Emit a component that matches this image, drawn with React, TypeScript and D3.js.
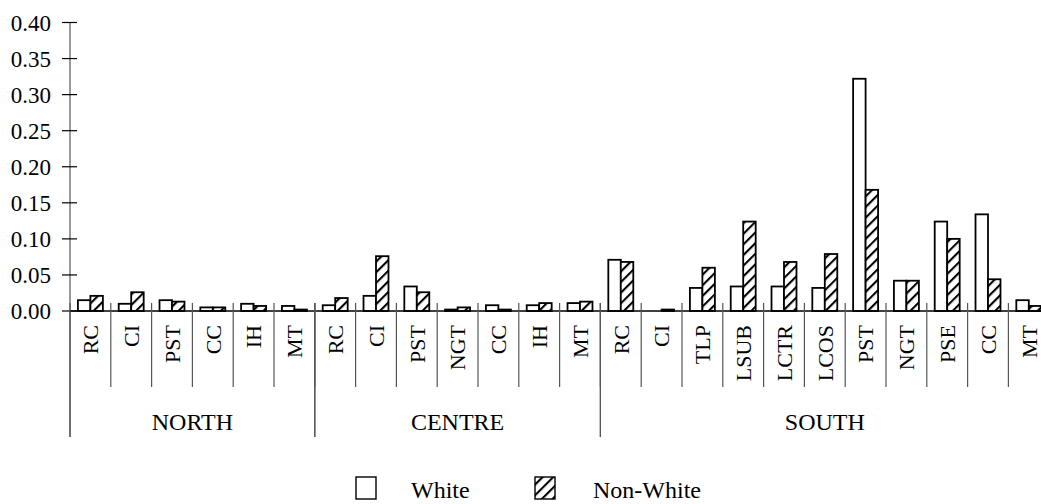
import React from 'react';
import * as d3 from 'd3';

// Regions and the categories inside each
const groups = ['NORTH', 'CENTRE', 'SOUTH'];
const northCats = ['RC', 'CI', 'PST', 'CC', 'IH', 'MT'];
const centreCats = ['RC', 'CI', 'PST', 'NGT', 'CC', 'IH', 'MT'];
const southCats = ['RC', 'CI', 'TLP', 'LSUB', 'LCTR', 'LCOS', 'PST', 'NGT', 'PSE', 'CC', 'MT'];

// Values
const northWhite = [0.015, 0.010, 0.015, 0.005, 0.010, 0.007];
const northNonWhite = [0.021, 0.026, 0.013, 0.005, 0.007, 0.002];
const centreWhite = [0.008, 0.021, 0.034, 0.002, 0.008, 0.008, 0.011];
const centreNonWhite = [0.018, 0.076, 0.026, 0.005, 0.002, 0.011, 0.013];
const southWhite = [0.071, 0.000, 0.032, 0.034, 0.034, 0.032, 0.322, 0.042, 0.124, 0.134, 0.015];
const southNonWhite = [0.068, 0.002, 0.060, 0.124, 0.068, 0.079, 0.168, 0.042, 0.100, 0.044, 0.007];

const seriesNames = ['White', 'Non-White'];
const yTicks = [0, 0.05, 0.1, 0.15, 0.2, 0.25, 0.3, 0.35, 0.4];

const groupCats = [northCats, centreCats, southCats];
const groupWhite = [northWhite, centreWhite, southWhite];
const groupNonWhite = [northNonWhite, centreNonWhite, southNonWhite];

const FONT = '"Liberation Serif", "Times New Roman", serif';

const App = () => {
  const width = 1041;
  const height = 504;
  const left = 70;
  const catWidth = 40.8;
  const axisY = 311;

  // flatten into rows
  const rows = groups.flatMap((g, gi) =>
    groupCats[gi].map((c, ci) => ({
      key: `${g}-${c}`,
      group: g,
      cat: c,
      white: groupWhite[gi][ci],
      nonWhite: groupNonWhite[gi][ci],
    }))
  );

  const x = d3.scaleBand()
    .domain(rows.map(d => d.key))
    .range([left, left + catWidth * rows.length])
    .padding(0);

  const bw = x.bandwidth();
  const barW = bw * 0.306;

  const y = d3.scaleLinear()
    .domain([0, 0.4])
    .range([axisY, 22.5]);

  const fmt = d3.format('.2f');

  // group boundaries
  let idx = 0;
  const groupSpans = groups.map((g, gi) => {
    const start = x(rows[idx].key);
    idx += groupCats[gi].length;
    const end = start + bw * groupCats[gi].length;
    return { g, start, end };
  });

  return (
    <svg width={width} height={height} style={{ position: 'absolute', left: 0, top: 0, background: '#fff' }}>
      <defs>
        <pattern id="hatch" patternUnits="userSpaceOnUse" width="7.5" height="7.5" patternTransform="rotate(45)">
          <rect width="7.5" height="7.5" fill="#fff" />
          <line x1="0" y1="0" x2="0" y2="7.5" stroke="#000" strokeWidth="4.2" />
        </pattern>
      </defs>

      {/* y axis */}
      <line x1={left} x2={left} y1={y(0.4)} y2={437} stroke="#555" strokeWidth={1.2} />
      {yTicks.map(t => (
        <g key={t}>
          <line x1={62} x2={77} y1={y(t)} y2={y(t)} stroke="#000" strokeWidth={1.2} />
          <text x={51} y={y(t)} dy="0.35em" textAnchor="end" fontFamily={FONT} fontSize={23} fill="#000">{fmt(t)}</text>
        </g>
      ))}

      {/* bars */}
      {rows.map(d => {
        const cx = x(d.key) + bw / 2;
        return (
          <g key={d.key}>
            {d.white > 0 && (
              <rect x={cx - barW} y={y(d.white)} width={barW} height={axisY - y(d.white)}
                fill="#fff" stroke="#000" strokeWidth={1.8} />
            )}
            {d.nonWhite > 0 && (
              <rect x={cx} y={y(d.nonWhite)} width={barW} height={axisY - y(d.nonWhite)}
                fill="url(#hatch)" stroke="#000" strokeWidth={1.8} />
            )}
          </g>
        );
      })}

      {/* x axis baseline */}
      <line x1={left} x2={width} y1={axisY} y2={axisY} stroke="#000" strokeWidth={1.4} />

      {/* category dividers and labels */}
      {rows.map((d, i) => {
        const x0 = x(d.key);
        const cx = x0 + bw / 2;
        return (
          <g key={`lab-${d.key}`}>
            {i > 0 && (
              <line x1={x0} x2={x0} y1={303} y2={387} stroke="#555" strokeWidth={1.2} />
            )}
            <text transform={`translate(${cx},325) rotate(-90)`} dy="0.35em" textAnchor="end"
              fontFamily={FONT} fontSize={22} fill="#000">{d.cat}</text>
          </g>
        );
      })}

      {/* group dividers and labels */}
      {groupSpans.map(s => (
        <g key={s.g}>
          <line x1={s.start} x2={s.start} y1={303} y2={437} stroke="#555" strokeWidth={1.2} />
          <line x1={s.end} x2={s.end} y1={303} y2={437} stroke="#555" strokeWidth={1.2} />
          <text x={(s.start + s.end) / 2} y={430} textAnchor="middle" fontFamily={FONT} fontSize={24} fill="#000">{s.g}</text>
        </g>
      ))}

      {/* legend */}
      <g>
        <rect x={356} y={477} width={20} height={22} fill="#fff" stroke="#000" strokeWidth={1.4} />
        <text x={411} y={498} fontFamily={FONT} fontSize={24} fill="#000">{seriesNames[0]}</text>
        <rect x={535} y={477} width={20} height={22} fill="url(#hatch)" stroke="#000" strokeWidth={1.4} />
        <text x={593} y={498} fontFamily={FONT} fontSize={24} fill="#000">{seriesNames[1]}</text>
      </g>
    </svg>
  );
};

export default App;
